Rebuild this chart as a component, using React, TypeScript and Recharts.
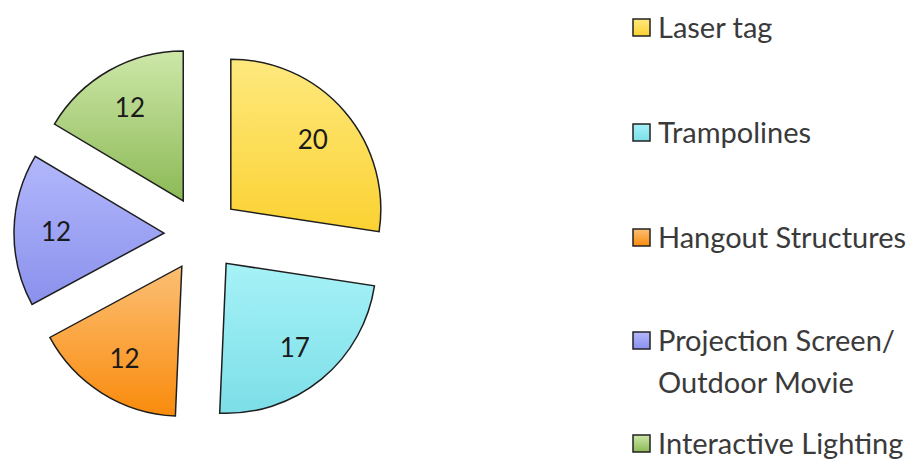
import { PieChart, Pie, Cell, Sector, Legend } from "recharts";

const categories = [
  "Laser tag",
  "Trampolines",
  "Hangout Structures",
  "Projection Screen/ Outdoor Movie",
  "Interactive Lighting",
];
const counts = [20, 17, 12, 12, 12];
const topColors = ["#fee97e", "#a6f2f7", "#fcbf74", "#b2b7fb", "#cde7a8"];
const bottomColors = ["#fbd232", "#7cdee8", "#f98b0c", "#8a91ec", "#8cba56"];

const data = categories.map((name, i) => ({ name, value: counts[i] }));

const RADIAN = Math.PI / 180;
const EXPLODE = 38;
const FONT = "Lato, 'Open Sans', sans-serif";
const legendRowTop = [6, 111, 216, 319, 422];

function ExplodedSector(props: any) {
  const { cx, cy, midAngle } = props;
  const dx = EXPLODE * Math.cos(-midAngle * RADIAN);
  const dy = EXPLODE * Math.sin(-midAngle * RADIAN);
  return <Sector {...props} cx={cx + dx} cy={cy + dy} />;
}

function renderLabel(props: any) {
  const { cx, cy, midAngle, value } = props;
  const r = EXPLODE + 108;
  const x = cx + r * Math.cos(-midAngle * RADIAN);
  const y = cy + r * Math.sin(-midAngle * RADIAN);
  return (
    <text
      x={x}
      y={y}
      textAnchor="middle"
      dominantBaseline="central"
      fontFamily={FONT}
      fontSize={26}
      fill="#1a1a1a"
    >
      {value}
    </text>
  );
}

function LegendContent(props: any) {
  const payload = [...(props.payload || [])].sort(
    (a: any, b: any) => categories.indexOf(a.value) - categories.indexOf(b.value)
  );
  return (
    <div style={{ position: "relative", width: 289, height: 463 }}>
      {payload.map((entry: any) => {
        const i = categories.indexOf(entry.value);
        return (
          <div
            key={entry.value}
            style={{
              position: "absolute",
              left: 0,
              top: legendRowTop[i],
              display: "flex",
              alignItems: "flex-start",
              fontFamily: FONT,
              fontSize: 29,
              lineHeight: "42px",
              color: "#3a3a3a",
            }}
          >
            <svg width={19} height={19} style={{ marginTop: 12, marginRight: 7 }}>
              <rect
                x={1}
                y={1}
                width={17}
                height={17}
                fill={`url(#grad-${i})`}
                stroke="#222"
                strokeWidth={1.5}
              />
            </svg>
            <div>
              {String(entry.value)
                .split("/ ")
                .map((line, j, arr) => (
                  <div key={j}>{j < arr.length - 1 ? line + "/" : line}</div>
                ))}
            </div>
          </div>
        );
      })}
    </div>
  );
}

export default function App() {
  return (
    <div style={{ position: "absolute", left: 0, top: 0, width: 921, height: 463, background: "#fff" }}>
      <PieChart width={921} height={463} margin={{ top: 0, right: 0, bottom: 0, left: 0 }}>
        <defs>
          {categories.map((_, i) => (
            <linearGradient key={i} id={`grad-${i}`} x1="0" y1="0" x2="0" y2="1">
              <stop offset="0%" stopColor={topColors[i]} />
              <stop offset="100%" stopColor={bottomColors[i]} />
            </linearGradient>
          ))}
        </defs>
        <Pie
          data={data}
          dataKey="value"
          nameKey="name"
          cx={202}
          cy={234}
          outerRadius={150}
          startAngle={90}
          endAngle={-270}
          stroke="#1e1e1e"
          strokeWidth={1.5}
          shape={ExplodedSector}
          label={renderLabel}
          labelLine={false}
          isAnimationActive={false}
        >
          {data.map((_, i) => (
            <Cell key={i} fill={`url(#grad-${i})`} />
          ))}
        </Pie>
        <Legend
          layout="vertical"
          align="right"
          verticalAlign="top"
          content={LegendContent}
          wrapperStyle={{ position: "absolute", left: 632, top: 0, width: 289, height: 463 }}
        />
      </PieChart>
    </div>
  );
}
